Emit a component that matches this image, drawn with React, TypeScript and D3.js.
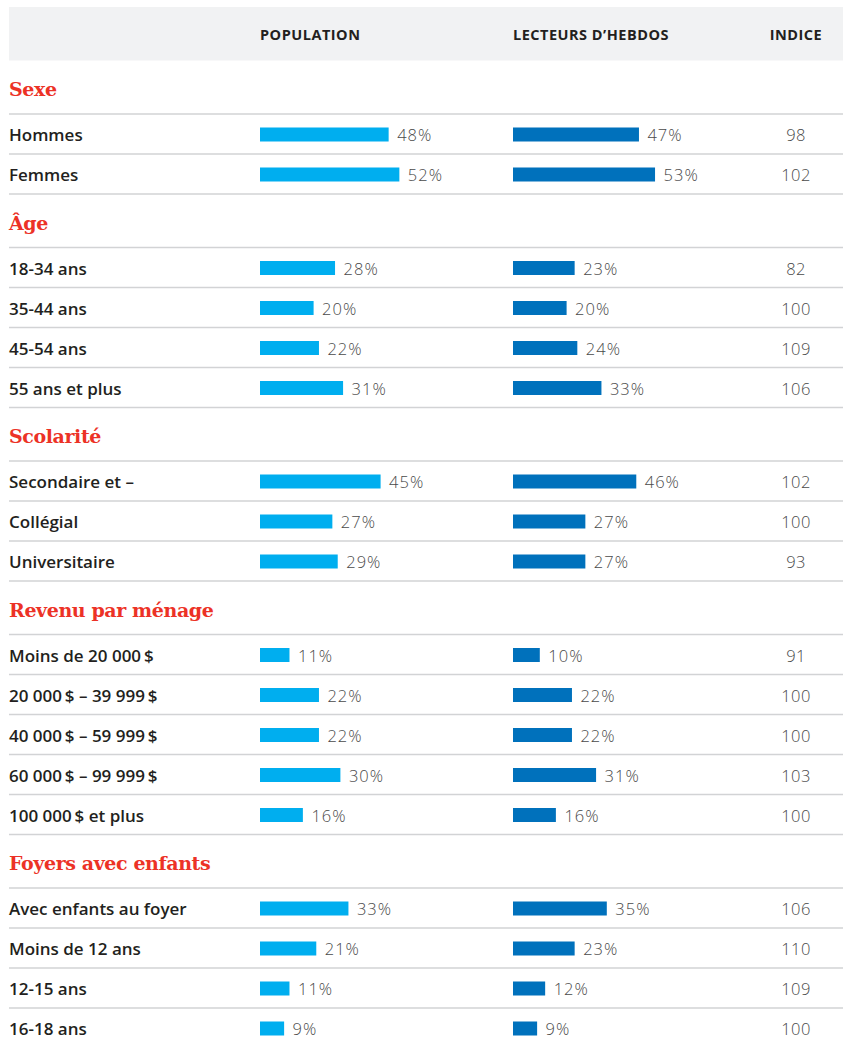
import React from "react";
import * as d3 from "d3";

const sectionTitles = ["Sexe", "Âge", "Scolarité", "Revenu par ménage", "Foyers avec enfants"];
const sectionSizes = [2, 4, 3, 5, 4];
const categories = [
  "Hommes", "Femmes",
  "18-34 ans", "35-44 ans", "45-54 ans", "55 ans et plus",
  "Secondaire et –", "Collégial", "Universitaire",
  "Moins de 20 000\u2009$", "20 000\u2009$ – 39 999\u2009$", "40 000\u2009$ – 59 999\u2009$", "60 000\u2009$ – 99 999\u2009$", "100 000\u2009$ et plus",
  "Avec enfants au foyer", "Moins de 12 ans", "12-15 ans", "16-18 ans",
];
const population = [48, 52, 28, 20, 22, 31, 45, 27, 29, 11, 22, 22, 30, 16, 33, 21, 11, 9];
const readers = [47, 53, 23, 20, 24, 33, 46, 27, 27, 10, 22, 22, 31, 16, 35, 23, 12, 9];
const indexValues = [98, 102, 82, 100, 109, 106, 102, 100, 93, 91, 100, 100, 103, 100, 106, 110, 109, 100];
const columnHeaders = ["POPULATION", "LECTEURS D\u2019HEBDOS", "INDICE"];

const W = 843;
const H = 1043;
const LEFT = 9;
const HEADER_TOP = 7;
const HEADER_BOTTOM = 60.5;
const SECTION_HEAD = 53.5;
const ROW_H = 40;
const POP_X = 260;
const READ_X = 513;
const IDX_X = 796;

const C_POP = "#00aeef";
const C_READ = "#0071bc";
const C_RED = "#ec3226";
const C_TEXT = "#231f20";
const C_VAL = "#4a4a4a";
const C_LINE = "#d2d3d5";
const C_BAND = "#f1f2f3";

const LABEL_FONT = "'Open Sans', sans-serif";

export default function App() {
  const x = d3.scaleLinear().domain([0, 100]).range([0, 268]);

  type Sec = { title: string; top: number; lineY: number; rows: { i: number; top: number }[] };
  const sections: Sec[] = [];
  let y = HEADER_BOTTOM;
  let idx = 0;
  sectionTitles.forEach((t, s) => {
    const sec: Sec = { title: t, top: y, lineY: y + SECTION_HEAD, rows: [] };
    let ry = y + SECTION_HEAD;
    for (let k = 0; k < sectionSizes[s]; k++) {
      sec.rows.push({ i: idx, top: ry });
      idx++;
      ry += ROW_H;
    }
    y = ry;
    sections.push(sec);
  });

  const valStyle = {
    fontFamily: LABEL_FONT,
    fontWeight: 300,
    fontSize: 16.5,
    fill: C_VAL,
    letterSpacing: 1,
  } as const;

  return (
    <svg
      width={W}
      height={H}
      style={{ position: "absolute", left: 0, top: 0, background: "#fff" }}
    >
      <rect x={LEFT} y={HEADER_TOP} width={W - LEFT} height={HEADER_BOTTOM - HEADER_TOP} fill={C_BAND} />
      {[POP_X, READ_X].map((hx, k) => (
        <text
          key={k}
          x={hx}
          y={39.5}
          fontFamily={LABEL_FONT}
          fontWeight={700}
          fontSize={14.5}
          letterSpacing={0.5}
          fill={C_TEXT}
        >
          {columnHeaders[k]}
        </text>
      ))}
      <text
        x={IDX_X}
        y={39.5}
        textAnchor="middle"
        fontFamily={LABEL_FONT}
        fontWeight={700}
        fontSize={14.5}
        letterSpacing={0.5}
        fill={C_TEXT}
      >
        {columnHeaders[2]}
      </text>

      {sections.map((sec, s) => (
        <g key={s}>
          <text
            x={LEFT}
            y={sec.top + 35.5}
            fontFamily="'DejaVu Serif', serif"
            fontWeight={700}
            fontSize={19}
            letterSpacing={-0.4}
            fill={C_RED}
          >
            {sec.title}
          </text>
          <line x1={LEFT} x2={W} y1={sec.lineY} y2={sec.lineY} stroke={C_LINE} strokeWidth={1.5} />
          {sec.rows.map(({ i, top }) => {
            const base = top + 27;
            return (
              <g key={i}>
                <text x={LEFT} y={base} fontFamily={LABEL_FONT} fontWeight={600} fontSize={17} fill={C_TEXT}>
                  {categories[i]}
                </text>
                <rect x={POP_X} y={top + 13.5} width={x(population[i])} height={14} fill={C_POP} />
                <text x={POP_X + x(population[i]) + 8.5} y={base} {...valStyle}>
                  {population[i]}%
                </text>
                <rect x={READ_X} y={top + 13.5} width={x(readers[i])} height={14} fill={C_READ} />
                <text x={READ_X + x(readers[i]) + 8.5} y={base} {...valStyle}>
                  {readers[i]}%
                </text>
                <text x={IDX_X} y={base} textAnchor="middle" {...valStyle} letterSpacing={0.4}>
                  {indexValues[i]}
                </text>
                <line
                  x1={LEFT}
                  x2={W}
                  y1={top + ROW_H}
                  y2={top + ROW_H}
                  stroke={C_LINE}
                  strokeWidth={1.5}
                />
              </g>
            );
          })}
        </g>
      ))}
    </svg>
  );
}
